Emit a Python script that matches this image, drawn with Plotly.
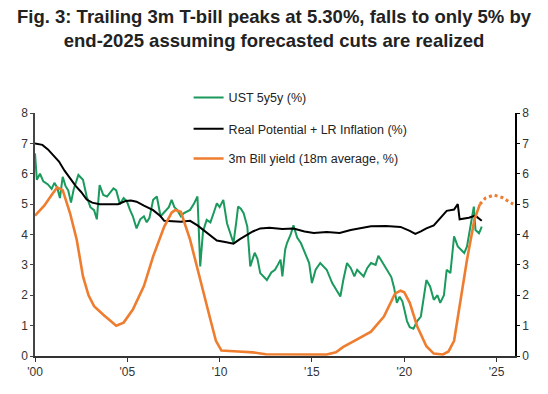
import plotly.graph_objects as go

# ---- Data ----
ust_x = [2000.0, 2000.1, 2000.27, 2000.45, 2000.7, 2000.9, 2001.05, 2001.2, 2001.35, 2001.5,
         2001.65, 2001.8, 2001.95, 2002.1, 2002.35, 2002.6, 2002.8, 2003.0, 2003.2, 2003.35,
         2003.5, 2003.7, 2003.9, 2004.1, 2004.25, 2004.4, 2004.6, 2004.8, 2004.97, 2005.15,
         2005.3, 2005.5, 2005.7, 2005.9, 2006.05, 2006.2, 2006.4, 2006.6, 2006.8, 2006.95,
         2007.1, 2007.25, 2007.4, 2007.55, 2007.7, 2007.9, 2008.05, 2008.25, 2008.4, 2008.6,
         2008.8, 2008.95, 2009.1, 2009.3, 2009.5, 2009.7, 2009.85, 2010.0, 2010.2, 2010.4,
         2010.6, 2010.75, 2010.9, 2011.0, 2011.15, 2011.3, 2011.5, 2011.66, 2011.9, 2012.05,
         2012.2, 2012.4, 2012.56, 2012.8, 2013.0, 2013.15, 2013.3, 2013.4, 2013.55, 2013.65,
         2013.85, 2014.0, 2014.2, 2014.4, 2014.55, 2014.7, 2014.85, 2015.0, 2015.2, 2015.45,
         2015.6, 2015.8, 2016.1, 2016.3, 2016.54, 2016.7, 2016.9, 2017.1, 2017.3, 2017.45,
         2017.65, 2017.8, 2018.0, 2018.2, 2018.45, 2018.6, 2018.75, 2018.95, 2019.1, 2019.3,
         2019.45, 2019.6, 2019.75, 2019.9, 2020.0, 2020.15, 2020.3, 2020.5, 2020.7, 2020.9,
         2021.05, 2021.2, 2021.4, 2021.6, 2021.8, 2021.95, 2022.15, 2022.3, 2022.5, 2022.7,
         2022.9, 2023.1, 2023.25, 2023.4, 2023.6, 2023.77, 2023.86, 2024.05, 2024.2]
ust_y = [6.67, 5.8, 6.0, 5.75, 5.65, 5.5, 5.7, 5.55, 5.2, 5.9,
         5.6, 5.45, 5.05, 5.5, 5.96, 5.8, 5.25, 4.9, 4.8, 4.5,
         5.63, 5.3, 5.25, 5.4, 5.52, 5.45, 5.0, 5.2, 5.1, 4.8,
         4.6, 4.2, 4.5, 4.6, 4.4, 4.55, 5.14, 5.25, 4.6, 4.7,
         4.81, 4.9, 5.14, 4.9, 4.81, 4.6, 4.7, 4.75, 4.81, 5.0,
         5.25, 2.95, 4.1, 4.48, 4.4, 4.75, 5.03, 4.9, 5.14, 4.37,
         4.0, 3.72, 4.4, 4.92, 4.85, 4.7, 4.26, 2.95, 3.4, 3.2,
         2.73, 2.6, 2.5, 2.75, 2.84, 3.0, 3.17, 2.62, 3.5, 3.72,
         4.0, 4.3, 3.9, 3.72, 3.5, 3.28, 3.06, 2.4, 2.84, 3.06,
         2.95, 2.84, 2.4, 2.2, 1.96, 2.5, 3.06, 2.9, 2.62, 2.84,
         2.7, 2.62, 2.9, 3.06, 3.0, 3.3, 3.15, 2.95, 2.8, 2.6,
         2.25, 1.75, 1.95, 1.8, 1.55, 1.15, 0.95, 0.9, 1.15, 1.3,
         1.9, 2.5, 2.29, 1.85, 2.0, 1.75, 2.0, 2.84, 2.73, 3.94,
         3.61, 3.5, 3.39, 3.61, 4.37, 4.92, 4.15, 4.04, 4.26]

rp_x = [2000.0, 2000.4, 2000.7, 2001.0, 2001.3, 2001.6, 2001.9, 2002.2, 2002.5, 2002.8,
        2003.1, 2003.5, 2004.5, 2004.9, 2005.2, 2005.5, 2005.9, 2006.4, 2006.8, 2007.0,
        2007.9, 2008.4, 2008.8, 2009.1, 2009.5, 2009.85, 2010.3, 2010.75, 2011.1, 2011.4,
        2011.8, 2012.2, 2012.7, 2013.4, 2014.0, 2014.6, 2015.1, 2015.8, 2016.5, 2017.1,
        2017.6, 2018.2, 2019.0, 2019.8, 2020.3, 2020.6, 2020.9, 2021.2, 2021.6, 2021.9,
        2022.3, 2022.7, 2022.9, 2023.0, 2023.5, 2023.85, 2024.0, 2024.2]
rp_y = [7.0, 6.95, 6.8, 6.6, 6.4, 6.1, 5.85, 5.6, 5.4, 5.15,
        5.05, 5.0, 5.0, 5.1, 5.12, 5.08, 4.95, 4.8, 4.6, 4.45,
        4.42, 4.45, 4.3, 4.15, 3.95, 3.8, 3.75, 3.7, 3.85, 3.95,
        4.1, 4.2, 4.22, 4.18, 4.2, 4.1, 4.05, 4.08, 4.05, 4.15,
        4.2, 4.27, 4.28, 4.25, 4.12, 4.02, 4.1, 4.2, 4.3, 4.5,
        4.78, 4.82, 5.0, 4.5, 4.55, 4.62, 4.55, 4.45]

bill_x = [2000.0, 2000.5, 2000.9, 2001.2, 2001.5, 2001.9, 2002.26, 2002.6, 2002.9, 2003.2,
          2003.7, 2004.1, 2004.4, 2004.8, 2005.3, 2005.9, 2006.4, 2007.0, 2007.4, 2007.6,
          2007.9, 2008.4, 2008.9, 2009.5, 2009.8, 2010.1, 2011.0, 2011.8, 2012.5, 2014.0,
          2015.8, 2016.3, 2016.7, 2017.3, 2018.2, 2018.9, 2019.5, 2019.8, 2020.0, 2020.3,
          2020.7, 2021.2, 2021.6, 2022.1, 2022.4, 2022.7, 2023.0, 2023.4, 2023.8, 2024.1]
bill_y = [4.62, 4.95, 5.3, 5.55, 5.46, 4.7, 3.83, 2.62, 2.0, 1.64,
          1.36, 1.15, 1.0, 1.1, 1.53, 2.3, 3.28, 4.26, 4.72, 4.81,
          4.75, 3.83, 2.6, 1.2, 0.5, 0.18, 0.15, 0.12, 0.06, 0.05,
          0.05, 0.12, 0.3, 0.5, 0.8, 1.3, 2.05, 2.15, 2.1, 1.75,
          0.98, 0.32, 0.08, 0.05, 0.15, 0.5, 1.6, 3.17, 4.48, 5.0]

fc_x = [2024.1, 2024.4, 2024.85, 2025.3, 2025.9]
fc_y = [5.0, 5.2, 5.3, 5.22, 5.0]

x_tickvals = [2000, 2005, 2010, 2015, 2020, 2025]
x_ticktext = ["'00", "'05", "'10", "'15", "'20", "'25"]
y_tickvals = [0, 1, 2, 3, 4, 5, 6, 7, 8]

TITLE = ("Fig. 3: Trailing 3m T-bill peaks at 5.30%, falls to only 5% by<br>"
         "end-2025 assuming forecasted cuts are realized")

GREEN = "#1A9A5C"
ORANGE = "#EE7D2F"
BLACK = "#000000"
FONT = "Liberation Sans, Arial, sans-serif"

fig = go.Figure()
fig.add_trace(go.Scatter(x=ust_x, y=ust_y, mode="lines", name="UST 5y5y (%)",
                         line=dict(color=GREEN, width=2), legend="legend"))
fig.add_trace(go.Scatter(x=rp_x, y=rp_y, mode="lines", name="Real Potential + LR Inflation (%)",
                         line=dict(color=BLACK, width=2), legend="legend2"))
fig.add_trace(go.Scatter(x=bill_x, y=bill_y, mode="lines", name="3m Bill yield (18m average, %)",
                         line=dict(color=ORANGE, width=2.6), legend="legend3"))
fig.add_trace(go.Scatter(x=fc_x, y=fc_y, mode="lines", showlegend=False, yaxis="y2",
                         line=dict(color=ORANGE, width=3, dash="dot")))

axis_font = dict(family=FONT, size=12, color="#333333")
leg_common = dict(font=dict(family=FONT, size=12.5, color="#222222"), bgcolor="rgba(0,0,0,0)",
                  xanchor="left", yanchor="middle", x=0.32)

fig.update_layout(
    width=548, height=394,
    margin=dict(l=35, r=33, t=113, b=38),
    paper_bgcolor="white", plot_bgcolor="white",
    xaxis=dict(range=[2000, 2026], tickvals=x_tickvals, ticktext=x_ticktext,
               showgrid=False, zeroline=False, showline=True, linecolor="#333333", linewidth=1.5,
               ticks="outside", ticklen=4, tickcolor="#333333", tickfont=axis_font),
    yaxis=dict(range=[0, 8], tickvals=y_tickvals, showgrid=False, zeroline=False,
               showline=True, linecolor="#444444", linewidth=1.5, ticks="outside", ticklen=3,
               tickcolor="#444444", tickfont=axis_font),
    yaxis2=dict(range=[0, 8], tickvals=y_tickvals, overlaying="y", side="right", showgrid=False,
                zeroline=False, showline=True, linecolor="#000000", linewidth=1.5, ticks="outside",
                ticklen=3, tickcolor="#000000", tickfont=axis_font),
    legend=dict(y=1.062, **leg_common),
    legend2=dict(y=0.934, **leg_common),
    legend3=dict(y=0.811, **leg_common),
    annotations=[dict(text=TITLE, xref="paper", yref="paper", x=(274 - 35) / 480, y=(356 - 4) / 243,
                      xanchor="center", yanchor="top", showarrow=False, align="center",
                      font=dict(family=FONT, size=18.5, color="#222222", weight="bold"))],
)

fig.write_html("out.html", config={"displayModeBar": False},
               post_script="document.body.style.margin='0';")
